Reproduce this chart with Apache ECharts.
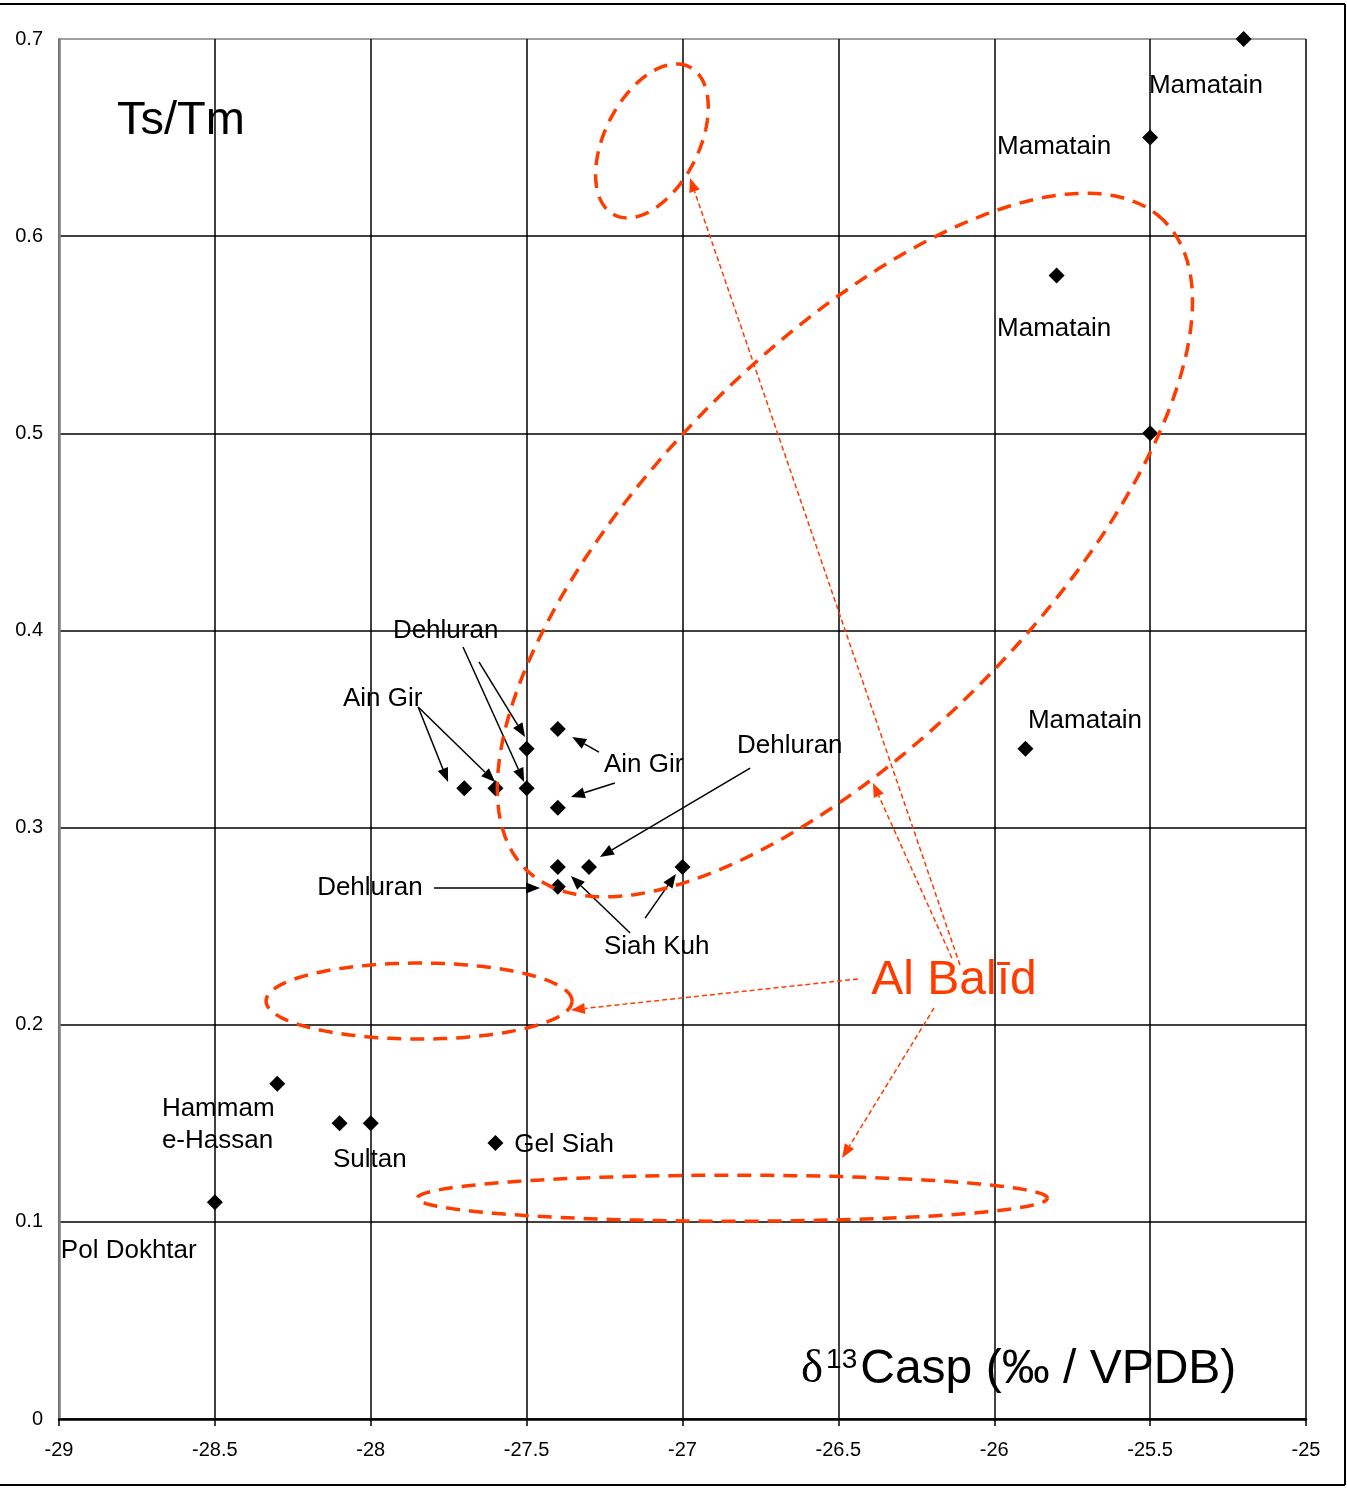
<!DOCTYPE html>
<html>
<head>
<meta charset="utf-8">
<script src="https://cdn.jsdelivr.net/npm/echarts@6/dist/echarts.min.js"></script>
<style>
  html, body { margin: 0; padding: 0; background: #fff; }
  #chart { width: 1347px; height: 1489px; }
</style>
</head>
<body>
<div id="chart"></div>
<script>
// axis ticks
const xTicks = [-29, -28.5, -28, -27.5, -27, -26.5, -26, -25.5, -25];
const yTicks = [0, 0.1, 0.2, 0.3, 0.4, 0.5, 0.6, 0.7];

// samples: d13C of asphalt vs Ts/Tm
const sampleX = [-25.2, -25.5, -25.8, -25.5, -25.9, -27.4, -27.5, -27.7, -27.6, -27.5,
                 -27.4, -27.4, -27.3, -27.4, -27.0, -28.3, -28.1, -28.0, -27.6, -28.5];
const sampleY = [0.70, 0.65, 0.58, 0.50, 0.34, 0.35, 0.34, 0.32, 0.32, 0.32,
                 0.31, 0.28, 0.28, 0.27, 0.28, 0.17, 0.15, 0.15, 0.14, 0.11];

// site names (text, x, y of the left edge / middle)
const noteText = ["Mamatain", "Mamatain", "Mamatain", "Mamatain", "Dehluran", "Ain Gir", "Ain Gir",
                  "Dehluran", "Dehluran", "Siah Kuh", "Hammam", "e-Hassan", "Sultan", "Gel Siah", "Pol Dokhtar"];
const noteX = [-25.504, -25.991, -25.991, -25.892, -27.929, -28.089, -27.252,
               -26.825, -28.172, -27.252, -28.670, -28.670, -28.121, -27.540, -28.994];
const noteY = [0.6772, 0.6462, 0.5539, 0.3551, 0.4007, 0.3662, 0.3328,
               0.3424, 0.2704, 0.2404, 0.1583, 0.1420, 0.1324, 0.1400, 0.0862];

// black pointer arrows [x1, y1, x2, y2]
const blackArrows = [
  [-27.704, 0.3916, -27.508, 0.3231],
  [-27.653, 0.3840, -27.505, 0.3459],
  [-27.848, 0.3612, -27.752, 0.3231],
  [-27.848, 0.3612, -27.601, 0.3231],
  [-27.268, 0.3383, -27.354, 0.3459],
  [-27.217, 0.3226, -27.358, 0.3155],
  [-26.783, 0.3302, -27.265, 0.2851],
  [-27.797, 0.2694, -27.457, 0.2694],
  [-27.168, 0.2465, -27.358, 0.2754],
  [-27.120, 0.2541, -27.021, 0.2765]
];

// Al Balid arrows
const redArrows = [
  [-26.110, 0.2303, -26.976, 0.6295],
  [-26.136, 0.2338, -26.389, 0.3226],
  [-26.437, 0.2232, -27.358, 0.2075],
  [-26.193, 0.2085, -26.488, 0.1324]
];

// Al Balid fields: centre x, centre y, semi-axes (px), tilt (deg)
const fields = [
  [-27.098, 0.6483, 83, 47, 63],
  [-26.479, 0.4433, 455, 194, 45.5],
  [-27.845, 0.2120, 153, 38, 0],
  [-26.840, 0.1120, 315, 23, 0]
];

const RED = '#ff3c00';
const SANS = "'Liberation Sans', Arial, sans-serif";
const NARROW = "'Liberation Sans Narrow', 'Arial Narrow', 'Liberation Sans', sans-serif";

const chart = echarts.init(document.getElementById('chart'));

function renderEllipse(params, api) {
  const c = api.coord([api.value(0), api.value(1)]);
  const a = api.value(2), b = api.value(3), th = api.value(4) * Math.PI / 180;
  const pts = [];
  for (let i = 0; i <= 160; i++) {
    const t = i / 160 * Math.PI * 2;
    const ex = a * Math.cos(t), ey = b * Math.sin(t);
    pts.push([c[0] + ex * Math.cos(th) - ey * Math.sin(th),
              c[1] - (ex * Math.sin(th) + ey * Math.cos(th))]);
  }
  return {
    type: 'polyline',
    shape: { points: pts },
    style: { stroke: RED, lineWidth: 3.5, lineDash: [14, 9], fill: null }
  };
}

function arrowRenderer(color, width, dash) {
  return function (params, api) {
    const p1 = api.coord([api.value(0), api.value(1)]);
    const p2 = api.coord([api.value(2), api.value(3)]);
    const dx = p2[0] - p1[0], dy = p2[1] - p1[1];
    const len = Math.hypot(dx, dy);
    const ux = dx / len, uy = dy / len;
    const hl = 14, hw = 5.5;
    const bx = p2[0] - ux * hl, by = p2[1] - uy * hl;
    return {
      type: 'group',
      children: [
        {
          type: 'line',
          shape: { x1: p1[0], y1: p1[1], x2: bx, y2: by },
          style: { stroke: color, lineWidth: width, lineDash: dash }
        },
        {
          type: 'polygon',
          shape: { points: [p2, [bx - uy * hw, by + ux * hw], [bx + uy * hw, by - ux * hw]] },
          style: { fill: color }
        }
      ]
    };
  };
}

function renderNote(params, api) {
  const p = api.coord([api.value(0), api.value(1)]);
  return {
    type: 'text',
    x: p[0], y: p[1] + 2,
    style: {
      text: noteText[params.dataIndex],
      font: '26px ' + SANS,
      fill: '#000',
      align: 'left',
      verticalAlign: 'middle'
    }
  };
}

// titles placed in data space too
const titles = [
  [-28.814, 0.660],
  [-26.129, 0.2232],
  [-26.620, 0.0264]
];

function renderTitle(params, api) {
  const p = api.coord([api.value(0), api.value(1)]);
  const i = params.dataIndex;
  if (i === 0) {
    return { type: 'text', x: p[0], y: p[1] + 3,
      style: { text: 'Ts/Tm', font: '47px ' + SANS, fill: '#000', align: 'left', verticalAlign: 'middle' } };
  }
  if (i === 1) {
    return { type: 'text', x: p[0], y: p[1] + 2,
      style: { text: 'Al Balīd', font: '48px ' + SANS, fill: RED, align: 'center', verticalAlign: 'middle' } };
  }
  return {
    type: 'text', x: p[0], y: p[1] + 3,
    style: {
      text: '{d|δ}{s|13}{m|Casp (‰ / VPDB)}',
      align: 'left',
      verticalAlign: 'middle',
      fill: '#000',
      rich: {
        d: { fontFamily: "'Liberation Serif', serif", fontSize: 47, fill: '#000', padding: [0, 3, 0, 0] },
        s: { fontFamily: SANS, fontSize: 28, verticalAlign: 'top', fill: '#000', padding: [0, 3, 0, 0] },
        m: { fontFamily: SANS, fontSize: 48, fill: '#000' }
      }
    }
  };
}

const hSplitColors = yTicks.map((v, i) => (i === yTicks.length - 1 ? '#808080' : '#000'));

chart.setOption({
  animation: false,
  backgroundColor: '#fff',
  grid: { left: 59, right: 41, top: 39, bottom: 70, containLabel: false, outerBoundsMode: 'none' },
  xAxis: {
    type: 'value',
    min: xTicks[0],
    max: xTicks[xTicks.length - 1],
    interval: xTicks[1] - xTicks[0],
    axisLine: { onZero: false, lineStyle: { color: '#000', width: 2.5 } },
    axisTick: { show: true, length: 7, lineStyle: { color: '#000', width: 1.5 } },
    axisLabel: { fontSize: 20, fontFamily: NARROW, color: '#000', margin: 21 },
    splitLine: { show: true, lineStyle: { color: '#000', width: 1.5 } }
  },
  yAxis: {
    type: 'value',
    min: yTicks[0],
    max: yTicks[yTicks.length - 1],
    interval: yTicks[1] - yTicks[0],
    axisLine: { show: true, lineStyle: { color: '#808080', width: 2.5 } },
    axisTick: { show: false },
    axisLabel: { fontSize: 20, fontFamily: NARROW, color: '#000', margin: 16 },
    splitLine: { show: true, lineStyle: { color: hSplitColors, width: 1.5 } }
  },
  graphic: [
    { type: 'line', shape: { x1: 0, y1: 4, x2: 1345, y2: 4 }, style: { stroke: '#000', lineWidth: 2 } },
    { type: 'line', shape: { x1: 1345, y1: 4, x2: 1345, y2: 1485 }, style: { stroke: '#000', lineWidth: 2 } },
    { type: 'line', shape: { x1: 0, y1: 1485, x2: 1345, y2: 1485 }, style: { stroke: '#000', lineWidth: 2 } }
  ],
  series: [
    {
      type: 'scatter',
      name: 'samples',
      symbol: 'diamond',
      symbolSize: 16,
      itemStyle: { color: '#000', opacity: 1 },
      data: sampleX.map((x, i) => [x, sampleY[i]]),
      z: 3
    },
    {
      type: 'custom',
      name: 'fields',
      renderItem: renderEllipse,
      data: fields,
      z: 5,
      silent: true
    },
    {
      type: 'custom',
      name: 'pointers',
      renderItem: arrowRenderer('#000', 1.5, null),
      data: blackArrows,
      z: 4,
      silent: true
    },
    {
      type: 'custom',
      name: 'albalid',
      renderItem: arrowRenderer(RED, 1.5, [5, 3]),
      data: redArrows,
      z: 5,
      silent: true
    },
    {
      type: 'custom',
      name: 'notes',
      renderItem: renderNote,
      data: noteX.map((x, i) => [x, noteY[i]]),
      z: 6,
      silent: true
    },
    {
      type: 'custom',
      name: 'titles',
      renderItem: renderTitle,
      data: titles,
      z: 6,
      silent: true
    }
  ]
});
</script>
</body>
</html>
